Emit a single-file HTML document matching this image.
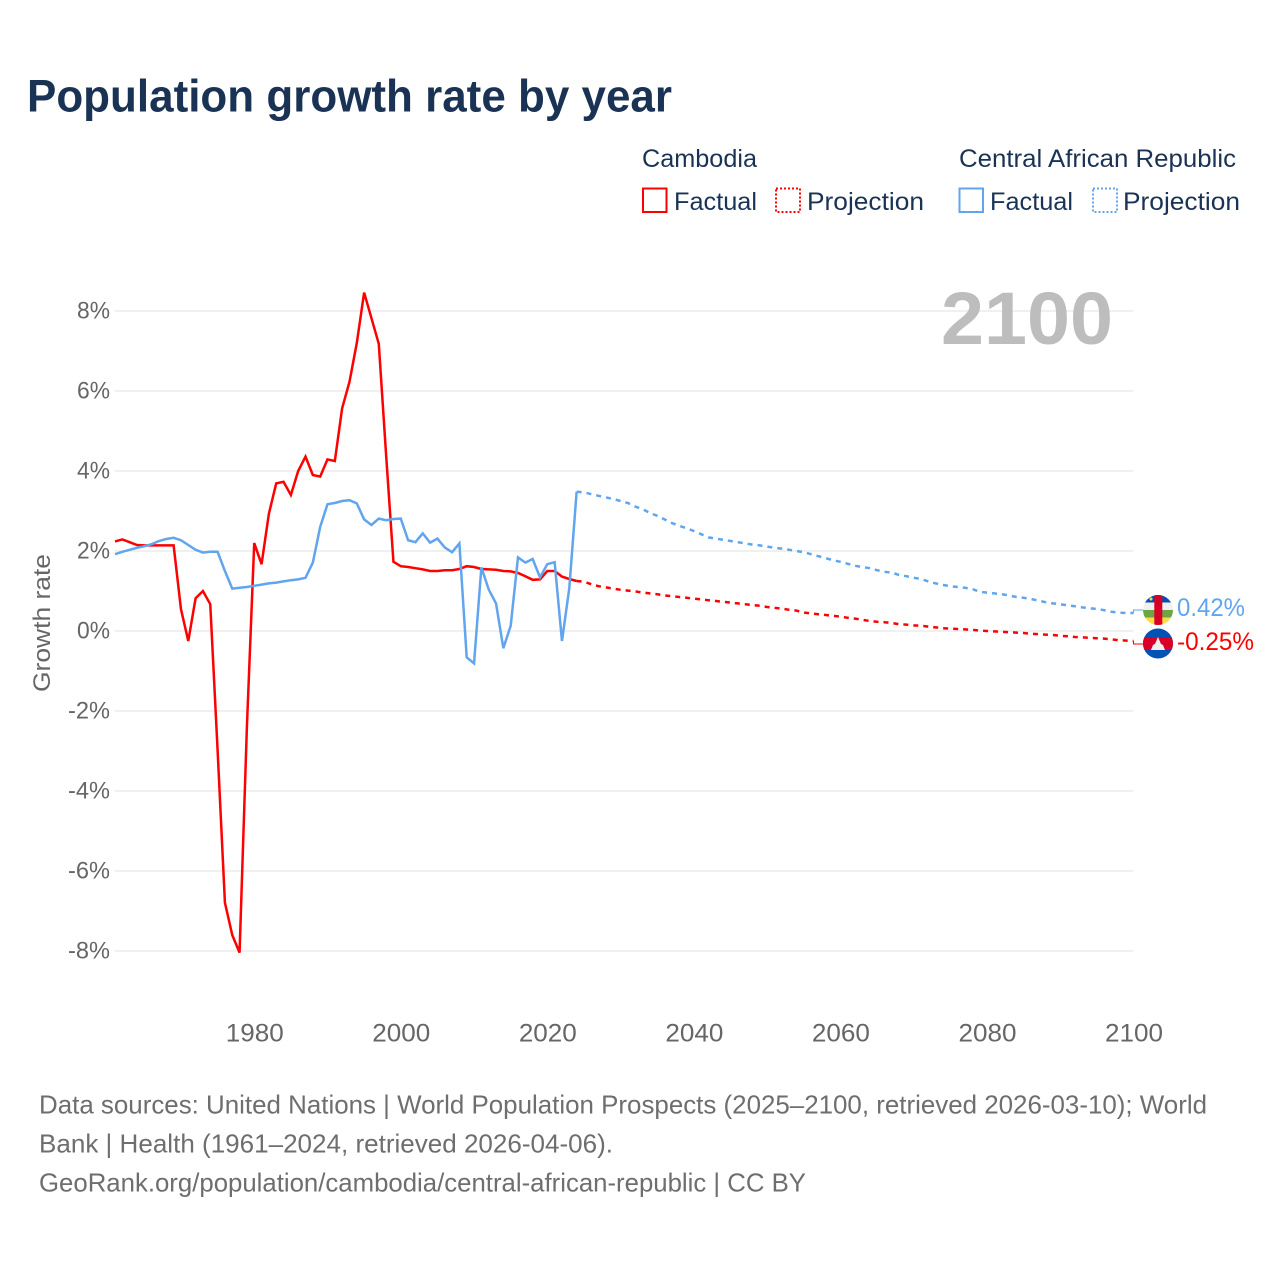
<!DOCTYPE html>
<html lang="en">
<head>
<meta charset="utf-8">
<title>Population growth rate by year</title>
<style>
html,body{margin:0;padding:0;background:#fff;width:1280px;height:1280px;overflow:hidden}
svg{display:block}
text{font-family:"Liberation Sans",sans-serif}
</style>
</head>
<body>
<svg id="chart" xmlns="http://www.w3.org/2000/svg" width="1280" height="1280" viewBox="0 0 1280 1280">
<defs>
<clipPath id="clip-caf"><circle cx="1158" cy="610" r="15"/></clipPath>
<clipPath id="clip-khm"><circle cx="1158" cy="643.5" r="15"/></clipPath>
</defs>
<rect width="1280" height="1280" fill="#fff"/>
<text x="27" y="111.5" font-size="45" font-weight="700" fill="#1a3355" textLength="645" lengthAdjust="spacingAndGlyphs">Population growth rate by year</text>

<g font-size="25" fill="#1a3355">
<text x="642" y="167" textLength="115" lengthAdjust="spacingAndGlyphs">Cambodia</text>
<text x="959" y="167" textLength="277" lengthAdjust="spacingAndGlyphs">Central African Republic</text>
<rect x="643" y="188.5" width="23.5" height="23.5" fill="none" stroke="#ff0000" stroke-width="2"/>
<text x="674" y="210" textLength="83" lengthAdjust="spacingAndGlyphs">Factual</text>
<rect x="776" y="188.5" width="24" height="23.5" fill="none" stroke="#ff0000" stroke-width="2" stroke-dasharray="2 2"/>
<text x="807" y="210" textLength="117" lengthAdjust="spacingAndGlyphs">Projection</text>
<rect x="959.5" y="188.5" width="23.5" height="23.5" fill="none" stroke="#60a5ee" stroke-width="2"/>
<text x="990" y="210" textLength="83" lengthAdjust="spacingAndGlyphs">Factual</text>
<rect x="1093" y="188.5" width="24" height="23.5" fill="none" stroke="#60a5ee" stroke-width="2" stroke-dasharray="2 2"/>
<text x="1123" y="210" textLength="117" lengthAdjust="spacingAndGlyphs">Projection</text>
</g>

<g id="grid"></g>
<g id="yticks" font-size="24" fill="#666666" text-anchor="end"></g>
<g id="xticks" font-size="25" fill="#666666"></g>
<text transform="translate(50,623) rotate(-90)" font-size="24" fill="#666666" text-anchor="middle" textLength="138" lengthAdjust="spacingAndGlyphs">Growth rate</text>
<text x="941" y="344" font-size="74" font-weight="700" fill="#bdbdbd" textLength="172" lengthAdjust="spacingAndGlyphs">2100</text>
<g id="series"></g>

<g clip-path="url(#clip-caf)">
<rect x="1143" y="595" width="30" height="7.5" fill="#0a4fb0"/>
<rect x="1143" y="602.5" width="30" height="7.5" fill="#f0f0f0"/>
<rect x="1143" y="610" width="30" height="7.5" fill="#6da544"/>
<rect x="1143" y="617.5" width="30" height="7.5" fill="#ffda44"/>
<rect x="1154.3" y="595" width="8" height="30" fill="#d80027"/>
<circle cx="1151" cy="599" r="1.5" fill="#ffda44"/>
</g>
<g clip-path="url(#clip-khm)">
<rect x="1143" y="628" width="30" height="31" fill="#0052b4"/>
<rect x="1143" y="637" width="30" height="13" fill="#d80027"/>
<path d="M1151 650 L1153 645 L1155 644 L1158 637 L1161 644 L1163 645 L1165 650 Z" fill="#f0f0f0"/>
</g>
<text id="label-caf" x="1177" y="616" font-size="25" fill="#60a5ee" textLength="68" lengthAdjust="spacingAndGlyphs">0.42%</text>
<text id="label-khm" x="1177" y="650" font-size="25" fill="#ff0000" textLength="77" lengthAdjust="spacingAndGlyphs">-0.25%</text>

<g font-size="26" fill="#6e6e6e">
<text x="39" y="1113.5" textLength="1168" lengthAdjust="spacingAndGlyphs">Data sources: United Nations | World Population Prospects (2025–2100, retrieved 2026-03-10); World</text>
<text x="39" y="1152.5" textLength="574" lengthAdjust="spacingAndGlyphs">Bank | Health (1961–2024, retrieved 2026-04-06).</text>
<text x="39" y="1191.5" textLength="767" lengthAdjust="spacingAndGlyphs">GeoRank.org/population/cambodia/central-african-republic | CC BY</text>
</g>
</svg>
<script>
const xTickYears = [1980, 2000, 2020, 2040, 2060, 2080, 2100];
const yTickValues = [8, 6, 4, 2, 0, -2, -4, -6, -8];
const factualStartYear = 1961;
const projectionStartYear = 2024;
const cambodiaFactual = [2.24,2.29,2.22,2.15,2.14,2.14,2.14,2.14,2.14,0.55,-0.25,0.82,1.0,0.67,-2.97,-6.79,-7.6,-8.04,-2.4,2.2,1.67,2.93,3.69,3.73,3.4,4.0,4.36,3.9,3.86,4.29,4.25,5.57,6.23,7.2,8.46,7.82,7.18,4.4,1.73,1.62,1.6,1.57,1.54,1.5,1.5,1.52,1.52,1.55,1.62,1.6,1.55,1.54,1.53,1.5,1.49,1.45,1.37,1.28,1.29,1.5,1.5,1.36,1.3,1.25];
const cafFactual = [1.92,1.98,2.03,2.08,2.12,2.17,2.25,2.3,2.33,2.27,2.15,2.03,1.96,1.98,1.98,1.5,1.06,1.08,1.1,1.13,1.16,1.19,1.21,1.24,1.27,1.29,1.33,1.71,2.6,3.17,3.2,3.25,3.27,3.19,2.79,2.65,2.81,2.77,2.8,2.81,2.27,2.22,2.44,2.21,2.31,2.09,1.97,2.19,-0.66,-0.81,1.59,1.04,0.69,-0.43,0.13,1.84,1.71,1.8,1.34,1.67,1.72,-0.25,1.07,3.48];
const cambodiaProjection = [1.25,1.23,1.17,1.12,1.09,1.06,1.03,1.01,0.99,0.96,0.94,0.92,0.89,0.87,0.85,0.83,0.81,0.79,0.77,0.75,0.73,0.71,0.69,0.67,0.65,0.63,0.6,0.58,0.56,0.53,0.51,0.46,0.44,0.42,0.40,0.38,0.36,0.33,0.31,0.28,0.25,0.23,0.22,0.20,0.17,0.16,0.14,0.13,0.11,0.09,0.07,0.06,0.05,0.04,0.03,0.01,0.0,-0.01,-0.02,-0.03,-0.04,-0.05,-0.07,-0.08,-0.09,-0.1,-0.12,-0.13,-0.15,-0.16,-0.17,-0.18,-0.19,-0.21,-0.23,-0.24,-0.25];
const cafProjection = [3.48,3.47,3.42,3.38,3.34,3.3,3.25,3.2,3.11,3.05,2.95,2.88,2.79,2.7,2.63,2.57,2.5,2.42,2.34,2.31,2.28,2.25,2.22,2.19,2.16,2.14,2.11,2.08,2.06,2.03,2.0,1.97,1.92,1.87,1.82,1.77,1.73,1.68,1.63,1.6,1.57,1.52,1.48,1.46,1.4,1.37,1.33,1.3,1.24,1.19,1.15,1.12,1.1,1.08,1.05,0.98,0.96,0.94,0.92,0.89,0.85,0.83,0.8,0.76,0.72,0.69,0.67,0.64,0.62,0.59,0.57,0.55,0.52,0.48,0.46,0.45,0.45];

const NS = 'http://www.w3.org/2000/svg';
const plotLeft = 115, plotRight = 1133.5;
function xScale(year) { return plotLeft + (year - 1961) * (plotRight - plotLeft) / 139; }
function yScale(value) { return 631 - value * 40; }
function linePath(values, startYear) {
  return values.map((v, i) => (i ? 'L' : 'M') + xScale(startYear + i).toFixed(2) + ' ' + yScale(v).toFixed(2)).join(' ');
}
const gridGroup = document.getElementById('grid');
const yTickGroup = document.getElementById('yticks');
const xTickGroup = document.getElementById('xticks');
const seriesGroup = document.getElementById('series');

yTickValues.forEach(function (v) {
  const line = document.createElementNS(NS, 'line');
  
  
  line.setAttribute('x1', plotLeft);
  line.setAttribute('x2', plotRight);
  line.setAttribute('y1', yScale(v));
  line.setAttribute('y2', yScale(v));
  line.setAttribute('stroke', '#ececec');
  line.setAttribute('stroke-width', '1.5');
  gridGroup.appendChild(line);
  const label = document.createElementNS(NS, 'text');
  
  
  label.setAttribute('x', 110);
  label.setAttribute('y', yScale(v) + 7.5);
  label.setAttribute('textLength', v < 0 ? 42 : 33);
  label.setAttribute('lengthAdjust', 'spacingAndGlyphs');
  label.textContent = v + '%';
  yTickGroup.appendChild(label);
});
xTickYears.forEach(function (year) {
  const label = document.createElementNS(NS, 'text');
  
  
  label.setAttribute('x', xScale(year) - 28.5);
  label.setAttribute('y', 1041.5);
  label.setAttribute('textLength', 58);
  label.setAttribute('lengthAdjust', 'spacingAndGlyphs');
  label.textContent = year;
  xTickGroup.appendChild(label);
});
function addProjection(values, color, name) {
  const path = document.createElementNS(NS, 'path');
  
  
  path.setAttribute('d', linePath(values, projectionStartYear));
  path.setAttribute('fill', 'none');
  path.setAttribute('stroke', color);
  path.setAttribute('stroke-width', '2.5');
  path.setAttribute('stroke-dasharray', '5 5');
  seriesGroup.appendChild(path);
}
function addFactual(values, color, name) {
  const path = document.createElementNS(NS, 'path');
  
  
  path.setAttribute('d', linePath(values, factualStartYear));
  path.setAttribute('fill', 'none');
  path.setAttribute('stroke', color);
  path.setAttribute('stroke-width', '2.5');
  path.setAttribute('stroke-linejoin', 'miter');
  seriesGroup.appendChild(path);
}
function addConnector(lastValue, flagY, color, name) {
  const path = document.createElementNS(NS, 'path');
  
  
  path.setAttribute('d', 'M' + plotRight + ' ' + yScale(lastValue) + ' V' + flagY + ' H1143');
  path.setAttribute('fill', 'none');
  path.setAttribute('stroke', color);
  path.setAttribute('stroke-width', '1');
  seriesGroup.appendChild(path);
}
addProjection(cambodiaProjection, '#ff0000', 'line-cambodia-projection');
addProjection(cafProjection, '#60a5ee', 'line-central-african-republic-projection');
addFactual(cambodiaFactual, '#ff0000', 'line-cambodia-factual');
addFactual(cafFactual, '#60a5ee', 'line-central-african-republic-factual');
addConnector(cambodiaProjection[cambodiaProjection.length - 1], 644, '#ff0000', 'connector-cambodia');
addConnector(cafProjection[cafProjection.length - 1], 610, '#60a5ee', 'connector-central-african-republic');
</script>
</body>
</html>
